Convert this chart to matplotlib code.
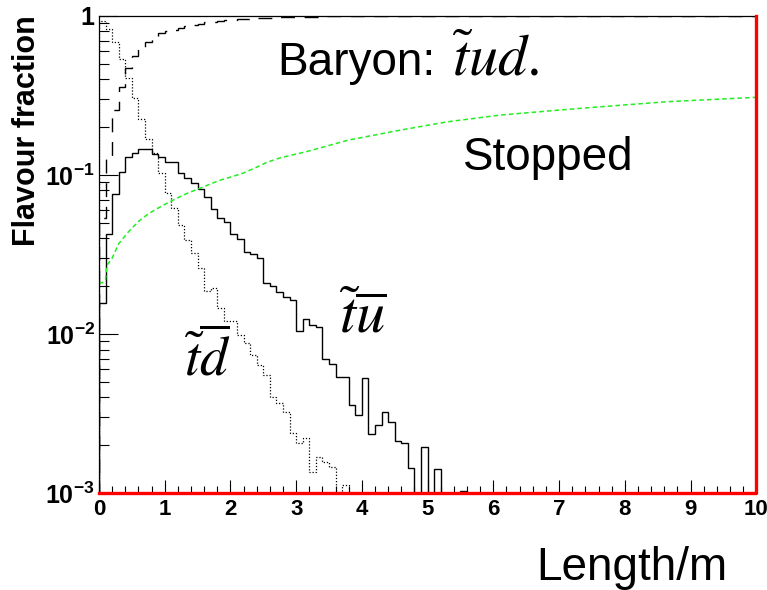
"""
Flavour fractions of a stop R-hadron (baryon t~ud start) versus travelled length.
Step histograms on a log scale, 100 bins of 0.1 m.
"""

import numpy as np
import matplotlib.pyplot as plt
from matplotlib.ticker import MultipleLocator, FixedLocator

plt.rcParams["font.family"] = ["Liberation Sans", "DejaVu Sans"]
plt.rcParams["mathtext.fontset"] = "custom"
plt.rcParams["mathtext.rm"] = "Liberation Sans"
plt.rcParams["mathtext.bf"] = "Liberation Sans:bold"

# bin edges in metres
edges = np.linspace(0, 10, 101)

# t~ u-bar meson fraction (solid)
frac_tubar = [
    0.0157, 0.0426, 0.0760, 0.104, 0.130, 0.1375, 0.146, 0.146, 0.1355, 0.130,
    0.121, 0.121, 0.1037, 0.0957, 0.0897, 0.0820, 0.0724, 0.0609, 0.0539, 0.0504,
    0.0426, 0.0394, 0.0329, 0.0318, 0.0301, 0.0211, 0.0200, 0.01845, 0.01717, 0.01637,
    0.01044, 0.01237, 0.0114, 0.01102, 0.00693, 0.00648, 0.00534, 0.00534, 0.00357, 0.00310,
    0.00531, 0.00234, 0.00268, 0.00325, 0.00279, 0.00212, 0.00207, 0.00145, 0.0, 0.00195,
    0.0, 0.00143, 0.0, 0.00101, 0.0, 0.00103,
] + [0.0] * 44

# t~ d-bar meson fraction (dotted)
frac_tdbar = [
    0.930, 0.828, 0.686, 0.537, 0.407, 0.305, 0.225, 0.168, 0.137, 0.103,
    0.0776, 0.0625, 0.0484, 0.0389, 0.0323, 0.0260, 0.0188, 0.0194, 0.0145, 0.0121,
    0.0121, 0.00986, 0.00878, 0.00738, 0.00638, 0.00552, 0.00402, 0.00368, 0.00323, 0.00238,
    0.00206, 0.00222, 0.00136, 0.00168, 0.00157, 0.00146, 0.0, 0.00112,
] + [0.0] * 62

# baryon fraction (dashed)
frac_baryon = [
    0.054, 0.130, 0.256, 0.36, 0.47, 0.56, 0.629, 0.686, 0.738, 0.782,
    0.80, 0.818, 0.84, 0.87, 0.88, 0.892, 0.91, 0.92, 0.932, 0.938,
    0.946, 0.952, 0.958, 0.962, 0.966, 0.974, 0.976, 0.978, 0.98, 0.982,
    0.987, 0.986, 0.988, 0.989, 0.993, 0.994, 0.995, 0.994, 0.996, 0.997,
    0.995, 0.998, 0.997, 0.997, 0.997, 0.998, 0.998, 0.999, 1.0, 0.998,
    1.0, 0.999, 1.0, 0.999, 1.0, 0.999,
] + [1.0] * 44

# cumulative stopped fraction (green)
stop_x = [0.0, 0.05, 0.1, 0.12, 0.2, 0.3, 0.45, 0.6, 0.75, 0.9, 1.05, 1.2, 1.35, 1.55,
          1.7, 1.85, 2.0, 2.2, 2.4, 2.55, 2.75, 2.95, 3.15, 3.8, 4.6, 5.3, 6.1,
          6.9, 7.65, 8.65, 9.3, 10.0]
stop_v = [0.021, 0.021, 0.022, 0.027, 0.030, 0.037, 0.044, 0.051, 0.057, 0.062, 0.067,
          0.072, 0.077, 0.083, 0.088, 0.093, 0.097, 0.103, 0.112, 0.12, 0.128,
          0.134, 0.14, 0.166, 0.192, 0.216, 0.238, 0.254, 0.269, 0.289, 0.298, 0.308]

ytick_vals = [1e-3, 1e-2, 1e-1, 1]
ytick_text = [r"$\mathbf{10^{-3}}$", r"$\mathbf{10^{-2}}$", r"$\mathbf{10^{-1}}$", "1"]


def floor(v):
    # empty bins drop below the axis, as in the original
    v = np.asarray(v, dtype=float)
    return np.where(v > 0, v, 1e-6)


fig = plt.figure(figsize=(7.67, 5.90), dpi=100)
ax = fig.add_axes([0.129, 0.164, 0.857, 0.809])

ax.stairs(floor(frac_tubar), edges, baseline=1e-6, color="black", lw=1.0)
ax.stairs(floor(frac_tdbar), edges, baseline=1e-6, color="black", lw=0.9,
          linestyle=(0, (1, 1.5)))
ax.stairs(floor(frac_baryon), edges, baseline=1e-6, color="black", lw=1.0,
          linestyle=(0, (10, 7)))
ax.plot(stop_x, stop_v, color="#22ee22", lw=1.1, linestyle=(0, (3, 2)))

# red boundary histogram
ax.plot([0, 10, 10], [1e-3, 1e-3, 1], color="red", lw=2.4, clip_on=False, zorder=5)

ax.set_yscale("log")
ax.set_xlim(0, 10)
ax.set_ylim(1e-3, 1)

ax.xaxis.set_major_locator(MultipleLocator(1))
ax.xaxis.set_minor_locator(MultipleLocator(0.2))
ax.yaxis.set_major_locator(FixedLocator(ytick_vals))
ax.set_yticklabels(ytick_text)
ax.tick_params(axis="x", which="major", direction="in", length=9.5, width=0.8,
               labelsize=16, pad=4)
ax.tick_params(axis="x", which="minor", direction="in", length=5, width=0.8)
ax.tick_params(axis="y", which="major", direction="in", length=13.5, width=0.8,
               labelsize=18, pad=3)
ax.tick_params(axis="y", which="minor", direction="in", length=7, width=0.8)
for lab in ax.get_xticklabels():
    lab.set_fontweight("bold")
ax.get_yticklabels()[-1].set_fontweight("bold")
for sp in ax.spines.values():
    sp.set_linewidth(0.9)

ax.text(0.272, 0.876, "Baryon:", transform=ax.transAxes,
        fontsize=33, va="baseline", ha="left")
ax.text(0.537, 0.876, r"$\tilde{t}ud.$", transform=ax.transAxes,
        fontsize=42, va="baseline", ha="left", math_fontfamily="stix")
ax.text(0.554, 0.677, "Stopped", transform=ax.transAxes,
        fontsize=33, va="baseline", ha="left")
ax.text(4.01, 0.0103, r"$\tilde{t}\overline{u}$", fontsize=42, ha="center",
        va="baseline", math_fontfamily="stix")
ax.text(1.654, 0.0055, r"$\tilde{t}\overline{d}$", fontsize=40, ha="center",
        va="baseline", math_fontfamily="stix")

fig.text(0.035, 0.975, "Flavour fraction", rotation=90, fontsize=22,
         fontweight="bold", ha="center", va="top")
fig.text(0.948, 0.017, "Length/m", fontsize=33, ha="right", va="baseline")

fig.savefig("out.png", dpi=100)
